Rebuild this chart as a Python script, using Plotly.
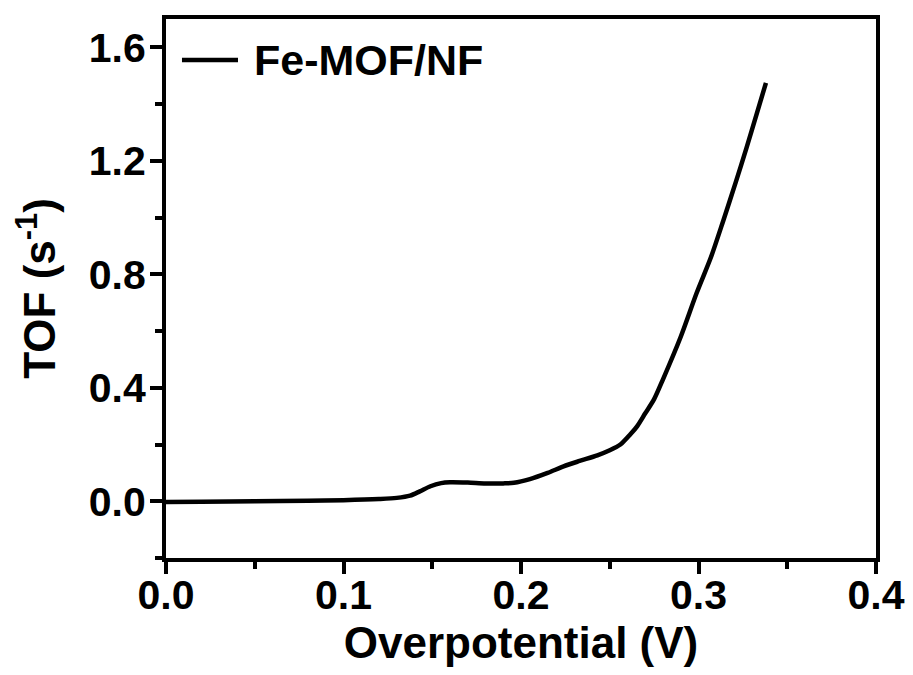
import plotly.graph_objects as go

overpotential = [0.0, 0.02, 0.05, 0.08, 0.10, 0.12, 0.13, 0.1375, 0.143, 0.149, 0.155, 0.16,
                 0.17, 0.18, 0.19, 0.196, 0.205, 0.215, 0.224, 0.233, 0.243, 0.25, 0.256,
                 0.2615, 0.2655, 0.27, 0.275, 0.28, 0.29, 0.299, 0.307, 0.314, 0.321, 0.327,
                 0.333, 0.338]
tof = [-0.003, -0.002, 0.0, 0.002, 0.004, 0.008, 0.012, 0.02, 0.035, 0.053, 0.064, 0.067,
       0.066, 0.063, 0.063, 0.065, 0.078, 0.10, 0.123, 0.142, 0.162, 0.18, 0.20,
       0.235, 0.265, 0.31, 0.36, 0.43, 0.58, 0.735, 0.86, 0.99, 1.125, 1.245,
       1.37, 1.475]
series_name = "Fe-MOF/NF"
x_ticks = [0.0, 0.1, 0.2, 0.3, 0.4]
y_ticks = [0.0, 0.4, 0.8, 1.2, 1.6]

FONT = "Liberation Sans"

fig = go.Figure()
fig.add_trace(go.Scatter(
    x=overpotential, y=tof, mode="lines", name=series_name,
    line=dict(color="black", width=4.5, shape="spline", smoothing=0.8),
    showlegend=False,
))

# legend drawn as a line sample and a text label
fig.add_shape(type="line", xref="x domain", yref="y domain",
              x0=0.0225, x1=0.1014, y0=0.924, y1=0.924,
              line=dict(color="black", width=4.5))
fig.add_annotation(xref="x domain", yref="y domain", x=0.121, y=0.924,
                   xanchor="left", yanchor="middle", showarrow=False,
                   text=series_name,
                   font=dict(family=FONT, size=43, color="black", weight="bold"))

axis_common = dict(
    showline=True, linecolor="black", linewidth=4, mirror=True,
    showgrid=False, zeroline=False,
    ticks="outside", ticklen=12, tickwidth=4, tickcolor="black",
    tickfont=dict(family=FONT, size=41, color="black", weight="bold"),
)

fig.update_xaxes(
    range=[0, 0.4], tickvals=x_ticks, ticktext=[f"{v:.1f}" for v in x_ticks],
    minor=dict(ticks="outside", ticklen=7, tickwidth=4, tickcolor="black", dtick=0.05),
    ticklabelstandoff=-14,
    title=dict(text="Overpotential (V)", standoff=0,
               font=dict(family=FONT, size=44, color="black", weight="bold")),
    **axis_common,
)
fig.update_yaxes(
    range=[-0.2, 1.7], tickvals=y_ticks, ticktext=[f"{v:.1f}" for v in y_ticks],
    minor=dict(ticks="outside", ticklen=7, tickwidth=4, tickcolor="black",
               tickvals=[-0.2, 0.2, 0.6, 1.0, 1.4]),
    ticklabelstandoff=-4,
    title=dict(text="TOF (s<sup>-1</sup>)", standoff=20,
               font=dict(family=FONT, size=44, color="black", weight="bold")),
    **axis_common,
)

fig.update_layout(
    width=913, height=675,
    margin=dict(l=166, r=37, t=19, b=117, autoexpand=False),
    paper_bgcolor="white", plot_bgcolor="white",
)

fig.write_html("out.html", config={"displayModeBar": False},
               post_script="document.body.style.margin='0';document.body.style.overflow='hidden';")
